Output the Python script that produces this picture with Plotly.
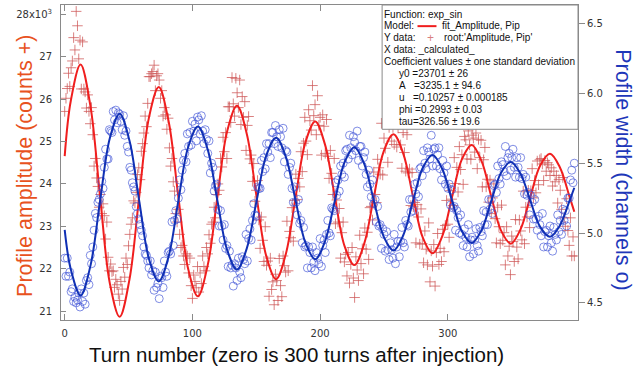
import plotly.graph_objects as go

# ---------------- data ----------------
turns = list(range(400))

# Profile amplitude, thousands of counts (red "+")
amplitude_k = [
    25.71, 26.02, 26.25, 26.61, 26.30, 26.74, 26.90, 27.45, 27.16, 28.07,
    27.73, 26.95, 27.39, 26.24, 27.35, 26.24, 26.17, 25.79, 26.10, 25.71,
    25.42, 25.80, 25.16, 24.42, 24.60, 24.14, 23.94, 23.45, 23.75, 23.30,
    23.53, 23.25, 22.70, 23.10, 22.27, 21.95, 22.11, 21.93, 21.95, 21.56,
    21.75, 21.62, 21.40, 21.25, 21.70, 21.52, 22.03, 21.80, 22.25, 22.10,
    22.54, 22.81, 23.05, 23.20, 23.60, 23.55, 23.80, 24.22, 24.38, 24.10,
    24.77, 24.95, 25.20, 25.60, 25.35, 25.90, 26.53, 26.53, 26.60, 26.65,
    26.80, 26.20, 26.55, 26.60, 26.45, 26.02, 26.20, 25.60, 25.80, 25.63,
    25.29, 25.55, 24.85, 24.42, 24.60, 24.05, 23.83, 23.30, 23.10, 23.40,
    22.81, 22.50, 22.55, 22.30, 22.10, 22.35, 22.30, 21.90, 22.25, 21.60,
    21.30, 21.85, 21.70, 21.55, 22.05, 21.45, 21.90, 21.65, 22.30, 22.05,
    21.95, 22.50, 22.35, 22.80, 22.60, 23.05, 23.10, 23.45, 23.20, 23.75,
    24.00, 23.85, 24.60, 24.40, 25.10, 24.76, 25.21, 24.60, 25.82, 25.82,
    25.45, 26.51, 25.89, 25.60, 26.49, 26.15, 25.80, 26.45, 25.40, 26.06,
    25.57, 25.94, 24.79, 25.38, 25.59, 24.59, 24.68, 24.06, 24.48, 23.59,
    23.85, 24.08, 23.15, 22.48, 23.22, 22.67, 22.17, 22.99, 22.08, 22.18,
    21.35, 22.25, 21.51, 21.69, 21.15, 21.87, 21.72, 21.25, 22.24, 21.60,
    21.34, 22.30, 22.07, 21.92, 23.12, 21.95, 22.88, 22.73, 23.44, 22.65,
    23.61, 24.23, 23.63, 24.13, 23.93, 24.76, 24.29, 24.96, 25.57, 25.01,
    24.69, 25.75, 25.49, 25.27, 26.32, 25.61, 25.87, 25.16, 26.08, 25.38,
    25.57, 24.68, 25.63, 25.36, 24.72, 25.52, 24.65, 24.13, 24.79, 24.25,
    23.75, 24.60, 23.06, 23.62, 23.10, 23.42, 22.25, 22.85, 23.10, 22.16,
    22.34, 21.83, 22.38, 21.66, 22.10, 22.50, 21.78, 21.32, 22.28, 21.97,
    21.72, 22.79, 22.12, 22.47, 21.88, 22.96, 22.46, 22.86, 22.22, 23.44,
    23.47, 23.15, 24.28, 23.75, 23.56, 24.58, 24.38, 24.23, 25.43, 24.21,
    25.08, 24.84, 25.43, 24.51, 25.33, 25.78, 25.01, 25.33, 24.93, 25.56,
    24.87, 25.32, 25.70, 24.92, 24.37, 25.21, 24.74, 24.30, 25.16, 24.26,
    24.35, 23.49, 24.27, 23.46, 23.56, 22.61, 23.51, 23.22, 22.58, 23.41,
    22.59, 22.14, 22.89, 22.46, 22.09, 23.08, 21.69, 22.42, 22.06, 22.57,
    21.59, 22.38, 22.83, 22.10, 22.48, 22.17, 22.93, 22.40, 23.02, 23.61,
    23.05, 22.74, 23.84, 23.64, 23.49, 24.62, 24.01, 24.39, 23.81, 24.88,
    24.34, 24.69, 23.99, 25.12, 25.04, 24.59, 25.25, 24.92, 24.58, 25.15,
    25.08, 24.75, 25.20, 24.36, 25.05, 24.62, 25.03, 23.93, 24.57, 24.86,
    23.93, 24.11, 23.57, 24.09, 23.30, 23.67, 24.00, 23.18, 22.61, 23.45,
    22.99, 22.59, 23.50, 22.67, 22.85, 22.09, 22.99, 22.30, 22.53, 21.86,
    22.77, 22.64, 22.17, 23.16, 22.51, 22.23, 23.15, 22.89, 22.68, 23.83,
    22.59, 23.45, 23.22, 23.85, 22.97, 23.84, 24.36, 23.67, 24.08, 23.79,
    24.54, 23.98, 24.57, 24.60, 24.47, 24.08, 24.55, 24.30, 24.50, 24.45,
    24.20, 24.38, 23.95, 24.30, 24.05, 24.20, 23.55, 24.10, 23.85, 23.40,
    24.15, 23.20, 23.00, 23.65, 22.90, 22.55, 23.20, 22.30, 22.75, 22.30,
]

# Profile width, channels (blue "o")
width_ch = [
    4.82, 4.69, 4.82, 4.69, 4.72, 4.58, 4.60, 4.51, 4.54, 4.50,
    4.52, 4.57, 4.47, 4.60, 4.51, 4.57, 4.49, 4.66, 4.68, 4.63,
    4.84, 4.78, 4.90, 5.02, 5.14, 5.11, 5.22, 5.24, 5.28, 5.37,
    5.32, 5.47, 5.60, 5.53, 5.53, 5.74, 5.73, 5.72, 5.87, 5.81,
    5.88, 5.79, 5.86, 5.85, 5.80, 5.74, 5.84, 5.70, 5.73, 5.62,
    5.58, 5.47, 5.45, 5.36, 5.33, 5.30, 5.19, 5.14, 5.10, 5.06,
    5.02, 4.98, 4.90, 4.85, 4.84, 4.80, 4.75, 4.80, 4.70, 4.73,
    4.59, 4.72, 4.61, 4.64, 4.53, 4.69, 4.68, 4.61, 4.80, 4.72,
    4.69, 4.86, 4.87, 4.85, 5.08, 4.91, 5.09, 5.16, 5.10, 5.25,
    5.38, 5.31, 5.45, 5.52, 5.57, 5.51, 5.71, 5.62, 5.72, 5.63,
    5.80, 5.73, 5.78, 5.66, 5.83, 5.81, 5.71, 5.84, 5.73, 5.64,
    5.74, 5.67, 5.57, 5.66, 5.43, 5.50, 5.47, 5.30, 5.34, 5.35,
    5.17, 5.05, 5.16, 5.05, 4.95, 5.06, 4.89, 4.91, 4.76, 4.87,
    4.75, 4.77, 4.62, 4.78, 4.75, 4.66, 4.82, 4.72, 4.68, 4.83,
    4.81, 4.78, 4.99, 4.80, 4.96, 5.03, 4.95, 5.09, 5.21, 5.13,
    5.12, 5.33, 5.32, 5.32, 5.52, 5.44, 5.54, 5.46, 5.64, 5.58,
    5.64, 5.54, 5.72, 5.72, 5.64, 5.77, 5.69, 5.62, 5.74, 5.69,
    5.61, 5.75, 5.51, 5.59, 5.58, 5.42, 5.47, 5.50, 5.32, 5.22,
    5.33, 5.22, 5.13, 5.24, 5.07, 5.09, 4.93, 5.04, 4.90, 4.91,
    4.75, 4.90, 4.86, 4.75, 4.90, 4.79, 4.73, 4.86, 4.82, 4.78,
    4.96, 4.76, 4.91, 4.95, 4.86, 4.99, 5.09, 5.00, 4.98, 5.18,
    5.17, 5.16, 5.36, 5.27, 5.38, 5.30, 5.48, 5.42, 5.50, 5.40,
    5.59, 5.60, 5.53, 5.70, 5.61, 5.56, 5.69, 5.65, 5.59, 5.73,
    5.52, 5.62, 5.62, 5.48, 5.54, 5.58, 5.42, 5.33, 5.45, 5.35,
    5.26, 5.38, 5.21, 5.24, 5.08, 5.19, 5.05, 5.06, 4.89, 5.03,
    4.99, 4.87, 5.01, 4.88, 4.81, 4.93, 4.88, 4.82, 4.99, 4.78,
    4.90, 4.94, 4.83, 4.94, 5.04, 4.93, 4.90, 5.09, 5.06, 5.05,
    5.24, 5.15, 5.24, 5.16, 5.35, 5.28, 5.36, 5.26, 5.46, 5.47,
    5.41, 5.59, 5.50, 5.46, 5.61, 5.58, 5.53, 5.70, 5.48, 5.60,
    5.61, 5.48, 5.56, 5.61, 5.46, 5.38, 5.52, 5.43, 5.35, 5.48,
    5.32, 5.35, 5.20, 5.31, 5.18, 5.19, 5.02, 5.16, 5.11, 5.00,
    5.13, 4.99, 4.91, 5.03, 4.97, 4.90, 5.06, 4.83, 4.95, 4.97,
    4.85, 4.95, 5.03, 4.91, 4.87, 5.04, 5.01, 4.98, 5.16, 5.06,
    5.15, 5.06, 5.24, 5.17, 5.24, 5.14, 5.34, 5.35, 5.29, 5.48,
    5.39, 5.35, 5.51, 5.49, 5.44, 5.62, 5.41, 5.54, 5.57, 5.45,
    5.54, 5.60, 5.47, 5.40, 5.54, 5.47, 5.40, 5.54, 5.39, 5.42,
    5.28, 5.40, 5.27, 5.29, 5.13, 5.27, 5.22, 5.10, 5.24, 5.10,
    5.02, 5.12, 5.06, 4.98, 5.14, 4.90, 5.01, 5.02, 4.90, 4.98,
    5.05, 4.93, 4.87, 5.04, 4.99, 4.95, 5.13, 5.01, 5.09, 4.99,
    5.17, 5.09, 5.16, 5.05, 5.25, 5.25, 5.38, 5.45, 5.36, 5.50,
]

# Fit curves read at extrema / eighth-period points
fit_turns = [0, 4.74, 12.40, 20.06, 27.71, 35.37, 43.03, 50.69, 58.34, 66.00,
             73.66, 81.31, 88.97, 96.63, 104.28, 111.94, 119.60, 127.26, 134.91, 142.57,
             150.23, 157.88, 165.54, 173.20, 180.85, 188.51, 196.17, 203.83, 211.48, 219.14,
             226.80, 234.45, 242.11, 249.77, 257.42, 265.08, 272.74, 280.40, 288.05, 295.71,
             303.37, 311.02, 318.68, 326.34, 333.99, 341.65, 349.31, 356.97, 364.62, 372.28,
             379.94, 387.59, 395.25, 399]
fit_amplitude_k = [24.655, 25.955, 26.816, 25.852, 23.701, 21.649, 20.865, 21.743, 23.701, 25.570,
                   26.283, 25.484, 23.701, 22.000, 21.350, 22.078, 23.701, 25.250, 25.841, 25.179,
                   23.701, 22.291, 21.753, 22.355, 23.701, 24.985, 25.475, 24.926, 23.701, 22.532,
                   22.086, 22.586, 23.701, 24.765, 25.171, 24.716, 23.701, 22.732, 22.362, 22.776,
                   23.701, 24.583, 24.920, 24.543, 23.701, 22.898, 22.591, 22.935, 23.701, 24.432,
                   24.711, 24.399, 23.701, 23.344]
fit_width = [5.023, 4.741, 4.553, 4.761, 5.23, 5.681, 5.855, 5.663, 5.23, 4.814,
             4.653, 4.830, 5.23, 5.614, 5.762, 5.599, 5.23, 4.876, 4.739, 4.890,
             5.23, 5.557, 5.683, 5.544, 5.23, 4.929, 4.812, 4.941, 5.23, 5.508,
             5.615, 5.497, 5.23, 4.974, 4.875, 4.984, 5.23, 5.467, 5.558, 5.457,
             5.23, 5.012, 4.928, 5.020, 5.23, 5.431, 5.509, 5.423, 5.23, 5.044,
             4.973, 5.052, 5.23, 5.324]

x_ticks = [0, 100, 200, 300]
amp_ticks = [21, 22, 23, 24, 25, 26, 27, 28]
amp_ticktext = ["21", "22", "23", "24", "25", "26", "27", "28x10<sup>3</sup>"]
width_ticks = [4.5, 5.0, 5.5, 6.0, 6.5]
width_ticktext = ["4.5", "5.0", "5.5", "6.0", "6.5"]

legend_lines = ["Function: exp_sin", "Model:", "Y data:", "X data: _calculated_",
                "Coefficient values \u00b1 one standard deviation"]
coef_lines = ["y0 =23701 \u00b1 26",
              "A\u00a0\u00a0\u00a0=3235.1 \u00b1 94.6",
              "u\u00a0\u00a0\u00a0=0.10257 \u00b1 0.000185",
              "phi =0.2993 \u00b1 0.03",
              "tau=326.56 \u00b1 19.6"]

# ---------------- layout geometry (pixels) ----------------
W, H = 642, 373
PL, PR, PT, PB = 61.0, 578.3, 4.7, 320.5


def fx(px):
    return (px - PL) / (PR - PL)


def fy(py):
    return (PB - py) / (PB - PT)


RED_PT = "rgba(205,85,85,0.75)"
BLUE_PT = "rgba(65,85,215,0.75)"
RED_LINE = "#F01E1E"
BLUE_LINE = "#1030B4"
AXIS = "#8a8a8a"
TXT = "#333333"

fig = go.Figure()
fig.add_trace(go.Scatter(
    x=turns, y=amplitude_k, mode="markers", yaxis="y",
    marker=dict(symbol="cross-thin", size=7.5, color=RED_PT, line=dict(width=1, color=RED_PT)),
    hoverinfo="skip"))
fig.add_trace(go.Scatter(
    x=fit_turns, y=fit_amplitude_k, mode="lines", yaxis="y",
    line=dict(color=RED_LINE, width=2, shape="spline"), hoverinfo="skip"))
fig.add_trace(go.Scatter(
    x=turns, y=width_ch, mode="markers", yaxis="y2",
    marker=dict(symbol="circle-open", size=8, color=BLUE_PT, line=dict(width=0.9, color=BLUE_PT)),
    hoverinfo="skip"))
fig.add_trace(go.Scatter(
    x=fit_turns, y=fit_width, mode="lines", yaxis="y2",
    line=dict(color=BLUE_LINE, width=2, shape="spline"), hoverinfo="skip"))

tickfont = dict(family="DejaVu Sans", size=10, color=TXT)

fig.update_layout(
    width=W, height=H,
    margin=dict(l=PL, r=W - PR, t=PT, b=H - PB, pad=0),
    paper_bgcolor="white", plot_bgcolor="white",
    showlegend=False,
    xaxis=dict(range=[-2.9, 401.9], tickvals=x_ticks, ticks="inside", ticklen=6,
               tickcolor=AXIS, showline=True, linecolor=AXIS, linewidth=1,
               mirror="ticks", showgrid=False, zeroline=False, tickfont=tickfont,
               ticklabelstandoff=4),
    yaxis=dict(range=[20.79, 28.22], tickvals=amp_ticks, ticktext=amp_ticktext,
               ticks="inside", ticklen=5, tickcolor=AXIS, showline=True,
               linecolor=AXIS, linewidth=1, showgrid=False, zeroline=False,
               tickfont=tickfont, ticklabelstandoff=6),
    yaxis2=dict(range=[4.377, 6.633], tickvals=width_ticks, ticktext=width_ticktext,
                overlaying="y", side="right", ticks="outside", ticklen=6,
                tickcolor=AXIS, showline=True, linecolor=AXIS, linewidth=1,
                showgrid=False, zeroline=False, tickfont=tickfont),
)

annotations = []
shapes = []

# axis titles
annotations.append(dict(text="Profile amplitude (counts +)", xref="paper", yref="paper",
                        x=fx(25), y=fy(166), textangle=-90, showarrow=False,
                        xanchor="center", yanchor="middle",
                        font=dict(family="Liberation Sans", size=21.5, color="#E8521E")))
annotations.append(dict(text="Profile width (channels o)", xref="paper", yref="paper",
                        x=fx(623), y=fy(170), textangle=90, showarrow=False,
                        xanchor="center", yanchor="middle",
                        font=dict(family="Liberation Sans", size=21.5, color="#1E37B9")))
annotations.append(dict(text="Turn number (zero is 300 turns after injection)",
                        xref="paper", yref="paper", x=fx(297), y=fy(355), showarrow=False,
                        xanchor="center", yanchor="middle",
                        font=dict(family="Liberation Sans", size=20.5, color="#111111")))

# legend / fit box
shapes.append(dict(type="rect", xref="paper", yref="paper",
                   x0=fx(382.3), x1=fx(578.3), y0=fy(129.3), y1=fy(4.7),
                   line=dict(color=AXIS, width=1), fillcolor="white", layer="above"))
lf = dict(family="Liberation Sans", size=10, color="#111111")
line_y = [14.0, 25.6, 37.6, 49.7, 61.7, 73.6, 85.6, 97.6, 109.6, 121.4]
for i, t in enumerate(legend_lines):
    annotations.append(dict(text=t, xref="paper", yref="paper", x=fx(382.5), y=fy(line_y[i]),
                            xanchor="left", yanchor="middle", showarrow=False, font=lf))
for i, t in enumerate(coef_lines):
    annotations.append(dict(text=t, xref="paper", yref="paper", x=fx(397.5), y=fy(line_y[5 + i]),
                            xanchor="left", yanchor="middle", showarrow=False, font=lf))
annotations.append(dict(text="fit_Amplitude, Pip", xref="paper", yref="paper", x=fx(440),
                        y=fy(line_y[1]), xanchor="left", yanchor="middle", showarrow=False, font=lf))
annotations.append(dict(text="root:'Amplitude, Pip'", xref="paper", yref="paper", x=fx(442.5),
                        y=fy(line_y[2]), xanchor="left", yanchor="middle", showarrow=False, font=lf))
annotations.append(dict(text="+", xref="paper", yref="paper", x=fx(431), y=fy(line_y[2]),
                        xanchor="center", yanchor="middle", showarrow=False,
                        font=dict(family="Liberation Sans", size=12, color=RED_PT)))
shapes.append(dict(type="line", xref="paper", yref="paper",
                   x0=fx(417.7), x1=fx(436.7), y0=fy(line_y[1] + 0.3), y1=fy(line_y[1] + 0.3),
                   line=dict(color=RED_LINE, width=2), layer="above"))

fig.update_layout(annotations=annotations, shapes=shapes)

fig.write_html("out.html", config={"displayModeBar": False},
               post_script="document.body.style.margin='0px';document.body.style.padding='0px';")
